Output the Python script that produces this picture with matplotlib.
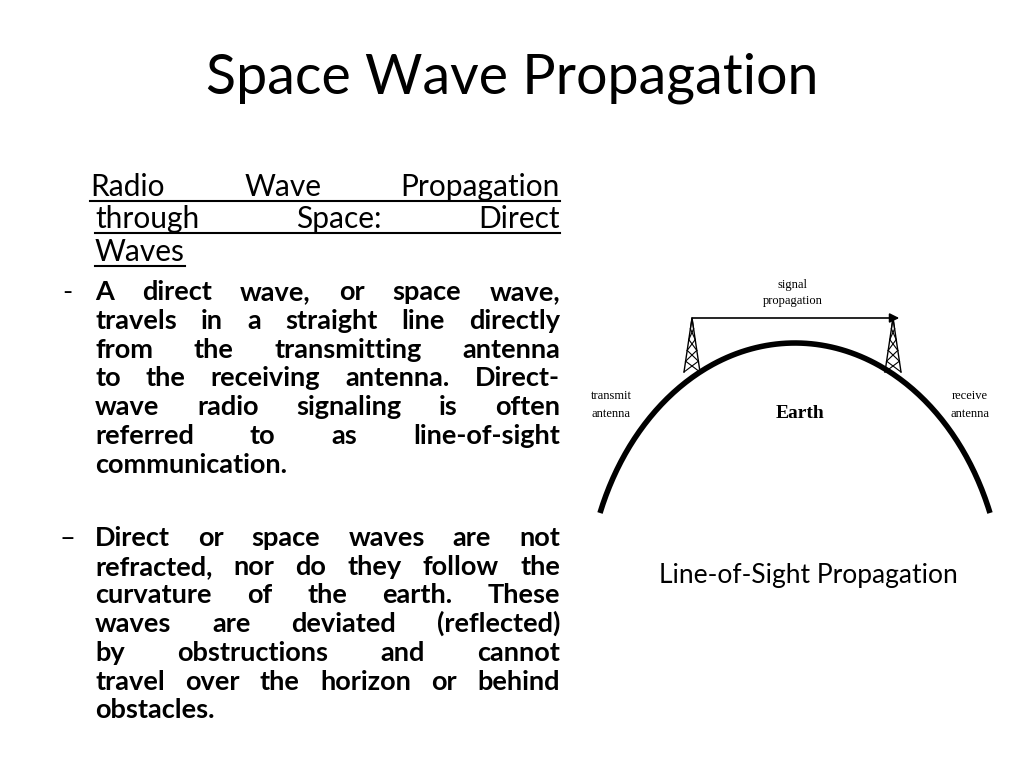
import numpy as np
import matplotlib
matplotlib.use("Agg")
import matplotlib.pyplot as plt

FONT = "Lato"

title = "Space Wave Propagation"
heading_lines = ["Radio Wave Propagation", "through Space: Direct", "Waves"]
bullet1_lines = ["A direct wave, or space wave,", "travels in a straight line directly",
                 "from the transmitting antenna", "to the receiving antenna. Direct-",
                 "wave radio signaling is often", "referred to as line-of-sight",
                 "communication."]
bullet2_lines = ["Direct or space waves are not", "refracted, nor do they follow the",
                 "curvature of the earth. These", "waves are deviated (reflected)",
                 "by obstructions and cannot", "travel over the horizon or behind",
                 "obstacles."]
caption = "Line-of-Sight Propagation"

fig = plt.figure(figsize=(10.24, 7.68), dpi=100)
ax = fig.add_axes([0, 0, 1, 1])
ax.set_xlim(0, 1024)
ax.set_ylim(768, 0)
ax.axis("off")
renderer = fig.canvas.get_renderer()


def width_of(t):
    return t.get_window_extent(renderer).width


def justify(line, x0, x1, y, size, weight, last=False, underline=False):
    words = line.split()
    texts = [ax.text(0, y, w, fontsize=size, fontweight=weight, family=FONT,
                     va="baseline", ha="left") for w in words]
    widths = [width_of(t) for t in texts]
    if last or len(words) == 1:
        gap = size * 0.35
    else:
        gap = (x1 - x0 - sum(widths)) / (len(words) - 1)
    x = x0
    for t, w in zip(texts, widths):
        t.set_x(x)
        x += w + gap
    if underline:
        ax.plot([x0, x - gap], [y + 5, y + 5], color="black", lw=1.5)


ax.text(512, 78, title, fontsize=40, family=FONT, ha="center", va="center")

hy = [196, 228, 261]
justify(heading_lines[0], 90, 560, hy[0], 21.5, "normal", underline=True)
justify(heading_lines[1], 95, 560, hy[1], 21.5, "normal", underline=True)
justify(heading_lines[2], 95, 560, hy[2], 21.5, "normal", last=True, underline=True)

y = 300
ax.text(62, y, "-", fontsize=19.5, family=FONT, va="baseline")
for i, ln in enumerate(bullet1_lines):
    justify(ln, 95, 560, y + i * 28.8, 19.5, "bold", last=(i == len(bullet1_lines) - 1))

y = 546
ax.text(60, y, "–", fontsize=19.5, family=FONT, va="baseline")
for i, ln in enumerate(bullet2_lines):
    justify(ln, 95, 560, y + i * 28.7, 19.5, "bold", last=(i == len(bullet2_lines) - 1))

# diagram: earth arc
t = np.linspace(-1, 1, 200)
ax.plot(795 + 195 * np.sin(t * 1.2) / np.sin(1.2), 343 + 170 * (1 - np.cos(t * 1.2)) / (1 - np.cos(1.2)),
        color="black", lw=4, solid_capstyle="butt")

# antennas
for xc, yb in [(692, 372), (893, 372)]:
    top = 318
    ax.plot([xc - 8, xc, xc + 8], [yb, top, yb], color="black", lw=1)
    for k in range(5):
        ya = top + (yb - top) * k / 5
        yb2 = top + (yb - top) * (k + 1) / 5
        ax.plot([xc - 8 * k / 5, xc + 8 * (k + 1) / 5], [ya, yb2], color="black", lw=0.8)
        ax.plot([xc + 8 * k / 5, xc - 8 * (k + 1) / 5], [ya, yb2], color="black", lw=0.8)
ax.annotate("", xy=(902, 318), xytext=(690, 318),
            arrowprops=dict(arrowstyle="-|>", color="black", lw=1.2, mutation_scale=14))

ax.text(793, 293, "signal\npropagation", fontsize=9, family="Liberation Serif",
        ha="center", va="center", linespacing=1.4)
ax.text(611, 405, "transmit\nantenna", fontsize=9, family="Liberation Serif",
        ha="center", va="center", linespacing=1.6)
ax.text(970, 405, "receive\nantenna", fontsize=9, family="Liberation Serif",
        ha="center", va="center", linespacing=1.6)
ax.text(800, 414, "Earth", fontsize=14, family="Liberation Serif", fontweight="bold",
        ha="center", va="center")

ax.text(808, 575, caption, fontsize=19, family=FONT, ha="center", va="center")

fig.savefig("out.png", dpi=100, facecolor="white")
